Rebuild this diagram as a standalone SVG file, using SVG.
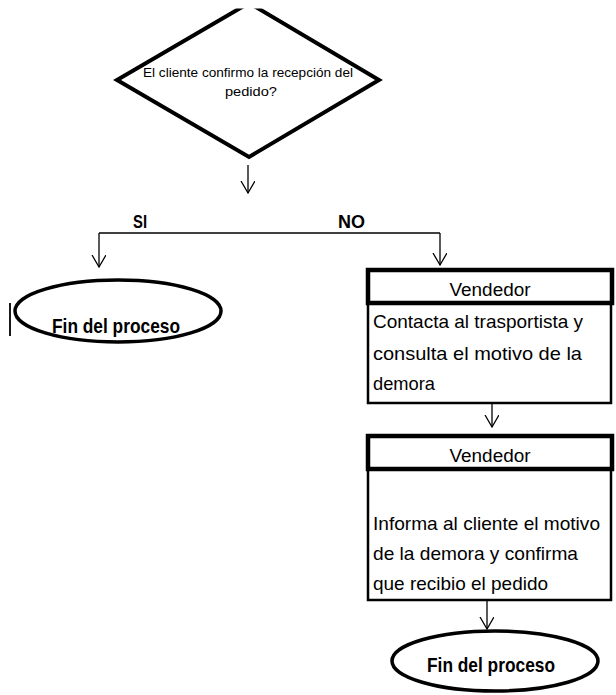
<svg xmlns="http://www.w3.org/2000/svg" width="616" height="695" viewBox="0 0 616 695">
  <defs>
    <marker id="open-arrow" markerWidth="16" markerHeight="16" refX="12" refY="7" orient="auto" markerUnits="userSpaceOnUse">
      <path d="M0,0 L12,7 L0,14" fill="none" stroke="#000" stroke-width="1.3"/>
    </marker>
    <clipPath id="clip-top">
      <rect x="0" y="8.5" width="616" height="690"/>
    </clipPath>
    <style>
      .shape { fill: #fff; stroke: #000; }
      .diamond { stroke-width: 4; stroke-linejoin: miter; }
      .terminal { stroke-width: 3.5; }
      .head { stroke-width: 4.5; }
      .body { stroke-width: 2.5; }
      .link { fill: none; stroke: #000; stroke-width: 1.3; }
      .txt { font-family: "Liberation Sans", Arial, sans-serif; fill: #000; }
      .bold { font-weight: bold; }
    </style>
  </defs>

  <g id="decision">
    <polygon class="shape diamond" clip-path="url(#clip-top)" points="249,3 379,80 249,157 117,80"/>
    <text class="txt" x="248" y="77" font-size="13" text-anchor="middle" textLength="210" lengthAdjust="spacingAndGlyphs">El cliente confirmo la recepción del</text>
    <text class="txt" x="251" y="96" font-size="13" text-anchor="middle" textLength="52" lengthAdjust="spacingAndGlyphs">pedido?</text>
  </g>

  <g id="connectors">
    <line class="link" x1="248" y1="165" x2="248" y2="193" marker-end="url(#open-arrow)"/>
    <line class="link" x1="99" y1="233" x2="440" y2="233"/>
    <line class="link" x1="99" y1="233" x2="99" y2="267" marker-end="url(#open-arrow)"/>
    <line class="link" x1="440" y1="233" x2="440" y2="265" marker-end="url(#open-arrow)"/>
    <line class="link" x1="492" y1="403" x2="492" y2="427" marker-end="url(#open-arrow)"/>
    <line class="link" x1="487" y1="601" x2="487" y2="629" marker-end="url(#open-arrow)"/>
    <line x1="10" y1="303" x2="10" y2="336" stroke="#000" stroke-width="1.8"/>
  </g>

  <g id="label-si">
    <text class="txt bold" x="133" y="228" font-size="17.5" textLength="14" lengthAdjust="spacingAndGlyphs">SI</text>
  </g>
  <g id="label-no">
    <text class="txt bold" x="338" y="228" font-size="17.5" textLength="27" lengthAdjust="spacingAndGlyphs">NO</text>
  </g>

  <g id="end-si">
    <ellipse class="shape terminal" cx="118" cy="311" rx="103" ry="31"/>
    <text class="txt bold" x="116" y="333" font-size="20.5" text-anchor="middle" textLength="128" lengthAdjust="spacingAndGlyphs">Fin del proceso</text>
  </g>

  <g id="step-contact">
    <rect class="shape body" x="368" y="303" width="243" height="100"/>
    <rect class="shape head" x="368" y="270" width="244" height="33"/>
    <text class="txt" x="490" y="296" font-size="18" text-anchor="middle" textLength="81" lengthAdjust="spacingAndGlyphs">Vendedor</text>
    <text class="txt" x="373" y="328" font-size="18.5" textLength="210" lengthAdjust="spacingAndGlyphs">Contacta al trasportista y</text>
    <text class="txt" x="373" y="360" font-size="18.5" textLength="209" lengthAdjust="spacingAndGlyphs">consulta el motivo de la</text>
    <text class="txt" x="373" y="390" font-size="18.5" textLength="62" lengthAdjust="spacingAndGlyphs">demora</text>
  </g>

  <g id="step-inform">
    <rect class="shape body" x="368" y="469" width="243" height="131"/>
    <rect class="shape head" x="368" y="436" width="244" height="33"/>
    <text class="txt" x="490" y="462" font-size="18" text-anchor="middle" textLength="81" lengthAdjust="spacingAndGlyphs">Vendedor</text>
    <text class="txt" x="373" y="530" font-size="18.5" textLength="227" lengthAdjust="spacingAndGlyphs">Informa al cliente el motivo</text>
    <text class="txt" x="373" y="560" font-size="18.5" textLength="205" lengthAdjust="spacingAndGlyphs">de la demora y confirma</text>
    <text class="txt" x="373" y="590" font-size="18.5" textLength="175" lengthAdjust="spacingAndGlyphs">que recibio el pedido</text>
  </g>

  <g id="end-no">
    <ellipse class="shape terminal" cx="495" cy="661" rx="103" ry="30"/>
    <text class="txt bold" x="491" y="672" font-size="20.5" text-anchor="middle" textLength="128" lengthAdjust="spacingAndGlyphs">Fin del proceso</text>
  </g>
</svg>
